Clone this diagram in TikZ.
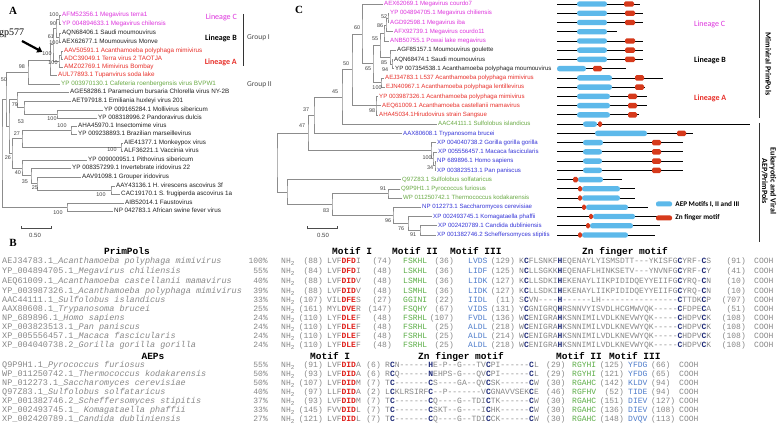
\documentclass[tikz,border=0pt]{standalone}
\usepackage{fontspec}
\setmonofont{Liberation Mono}[Ligatures=TeXOff]
\newfontfamily\arialfont{Liberation Sans}
\newfontfamily\calibfont{Carlito}
\newfontfamily\timesfont{Liberation Serif}
\usetikzlibrary{positioning,arrows.meta}

\definecolor{megaMag}{HTML}{DD33DD}
\definecolor{mimiRed}{HTML}{E8302A}
\definecolor{archGreen}{HTML}{6AAA45}
\definecolor{euBlue}{HTML}{3535D8}
\definecolor{leafBlack}{HTML}{222222}
\definecolor{treeGray}{HTML}{8C8C8C}
\definecolor{seqGray}{HTML}{878787}
\definecolor{motRed}{HTML}{E0201B}
\definecolor{motGreen}{HTML}{5DAE48}
\definecolor{motBlue}{HTML}{4F7DCB}
\definecolor{znBlue}{HTML}{1F2B78}
\definecolor{aepBlue}{HTML}{5DB9EA}
\definecolor{znRed}{HTML}{D63A1C}

\newcommand{\mI}[1]{\textcolor{motRed}{\bfseries #1}}
\newcommand{\zb}[1]{\textcolor{znBlue}{\bfseries #1}}
\newcommand{\znseq}[9]{#1\zb{#2}#3\zb{#4}#5\zb{#6}#7\zb{#8}#9}
\newcommand{\znMimi}{\znseq{K}{C}{FLSNKF}{H}{EQENAYLYISMSDTT---YKISFG}{C}{YRF-}{C}{S}}
\newcommand{\znMega}{\znseq{N}{C}{LLSGKK}{H}{EQENAFLHINKSETV---YNVNFG}{C}{YRF-}{C}{Y}}
\newcommand{\znMama}{\znseq{K}{C}{LLSDKI}{H}{EKENAYLIIKPIDIDQEYYEIIFG}{C}{YRQ-}{C}{N}}
\newcommand{\znSulf}{\znseq{S}{C}{VN----}{H}{------LH----------------}{C}{TTDK}{C}{P}}
\newcommand{\znTryp}{\znseq{Y}{C}{GNIGRQ}{H}{RSNNVYISVDLHCGMWVQK-----}{C}{FDPE}{C}{A}}
\newcommand{\znPrim}{\znseq{W}{C}{ENIGRA}{H}{KSNNIMILVDLKNEVWYQK-----}{C}{HDPV}{C}{K}}
% clade: name, x, first child, last child
\newcommand{\clade}[4]{%
  \path (#3) -- (#4) coordinate[pos=0.5] (#1m);
  \coordinate (#1) at (#2,0 |- #1m);
  \draw[treeline] (#3) -| (#1) |- (#4);}

\tikzset{
  treeline/.style={draw=treeGray, line width=0.55pt},
  leafa/.style={anchor=west, inner sep=1pt, text height=4.4pt, text depth=1pt, font=\arialfont\fontsize{6.3}{7}\selectfont},
  leafc/.style={leafa, font=\arialfont\fontsize{6.1}{7}\selectfont},
  boot/.style={inner sep=0pt, text=black!75, font=\arialfont\fontsize{5.4}{6}\selectfont},
  panel/.style={inner sep=0pt, font=\timesfont\bfseries\fontsize{11}{12}\selectfont},
  lin/.style={inner sep=0pt, font=\calibfont\fontsize{8}{9}\selectfont},
  linb/.style={inner sep=0pt, font=\calibfont\bfseries\fontsize{8}{9}\selectfont},
  grp/.style={inner sep=0pt, anchor=west, text=black!70, font=\calibfont\fontsize{7.5}{9}\selectfont},
  bracket/.style={draw=black!80, line width=1pt},
  domline/.style={draw=black, line width=0.8pt},
  keybar/.style={minimum width=16pt, minimum height=5pt, inner sep=0pt, rounded corners=2pt},
  legtxt/.style={inner sep=0pt, anchor=west, font=\calibfont\bfseries\fontsize{7.2}{8}\selectfont},
  rotlab/.style={rotate=-90, inner sep=0pt, align=center, font=\calibfont\bfseries\fontsize{8}{8.5}\selectfont},
  seq/.style={anchor=west, inner sep=0pt, text=seqGray, text height=5.4pt, text depth=1.6pt, font=\ttfamily\fontsize{8}{9}\selectfont},
  seqname/.style={seq, font=\ttfamily\fontsize{8.5}{9}\selectfont},
  seqhead/.style={anchor=west, inner sep=0pt, text=black, text height=6.5pt, text depth=1.8pt, font=\ttfamily\bfseries\fontsize{9.5}{10}\selectfont},
  scalebar/.style={draw=black!70, line width=0.6pt, {Bar[width=3pt]}-{Bar[width=3pt]}},
  bigarrow/.style={-{Triangle[length=5pt,width=6.5pt]}, line width=2.2pt},
}

\begin{document}
\begin{tikzpicture}[x=1pt, y=-1pt]
  \useasboundingbox (0,0) rectangle (779,438);
  \fill[white] (0,0) rectangle (779,438);

  %% Panel A
  \node[panel] (pA) at (13,11) {A};
  \foreach \i/\x/\y/\col/\lbl in {
    1/61/15/megaMag/AFM52356.1 Megavirus terra1,
    2/61/24/megaMag/YP 004894633.1 Megavirus chilensis,
    3/61/33/leafBlack/AQN68406.1 Saudi moumouvirus,
    4/61/42/leafBlack/AEX62677.1 Moumouvirus Monve,
    5/63/51/mimiRed/AAV50591.1 Acanthamoeba polyphaga mimivirus,
    6/63/59/mimiRed/ADC39049.1 Terra virus 2 TAOTJA,
    7/63/67/mimiRed/AMZ02769.1 Mimivirus Bombay,
    8/57/75/mimiRed/AUL77893.1 Tupanvirus soda lake,
    9/60/84/archGreen/YP 003970130.1 Cafeteria roenbergensis virus BVPW1,
    10/69/92/leafBlack/AGE58286.1 Paramecium bursaria Chlorella virus NY-2B,
    11/71/101/leafBlack/AET97918.1 Emiliania huxleyi virus 201,
    12/103/110/leafBlack/YP 009165284.1 Mollivirus sibericum,
    13/97/118/leafBlack/YP 008318996.2 Pandoravirus dulcis,
    14/77/126/leafBlack/AHA45970.1 Insectomime virus,
    15/77/134/leafBlack/YP 009238893.1 Brazilian marseillevirus,
    16/123/143/leafBlack/AIE41377.1 Monkeypox virus,
    17/123/151/leafBlack/ALF36221.1 Vaccinia virus,
    18/87/160/leafBlack/YP 009000951.1 Pithovirus sibericum,
    19/71/168/leafBlack/YP 008357299.1 Invertebrate iridovirus 22,
    20/81/177/leafBlack/AAV91098.1 Grouper iridovirus,
    21/115/186/leafBlack/AAY43136.1 H. virescens ascovirus 3f,
    22/120/194/leafBlack/CAC19170.1 S. frugiperda ascovirus 1a,
    23/124/203/leafBlack/AIB52014.1 Faustovirus,
    24/113/211/leafBlack/NP 042783.1 African swine fever virus}
    \node[leafa, text=\col] (lA\i) at (\x,\y) {\lbl};
  % Branches
  \clade{nA1}{59}{lA1.west}{lA2.west}
  \clade{nA2}{59}{lA3.west}{lA4.west}
  \clade{nA3}{56}{nA1}{nA2}
  \clade{nA4}{61}{lA5.west}{lA6.west}
  \clade{nA5}{59}{nA4}{lA7.west}
  \clade{nA6}{53}{nA3}{nA5}
  \clade{nA7}{50}{nA6}{lA8.west}
  \clade{nA8}{28}{nA7}{lA9.west}
  \clade{nA9}{57}{lA12.west}{lA13.west}
  \clade{nA10}{24}{lA11.west}{nA9}
  \clade{nA11}{17}{lA10.west}{nA10}
  \clade{nA12}{71}{lA14.west}{lA15.west}
  \clade{nA13}{121}{lA16.west}{lA17.west}
  \clade{nA14}{22}{nA12}{nA13}
  \clade{nA15}{111}{lA21.west}{lA22.west}
  \clade{nA16}{37}{lA20.west}{nA15}
  \clade{nA17}{31}{lA19.west}{nA16}
  \clade{nA18}{22}{lA18.west}{nA17}
  \clade{nA19}{12}{nA14}{nA18}
  \clade{nA20}{9}{nA11}{nA19}
  \clade{nA21}{6}{nA8}{nA20}
  \clade{nA22}{67}{lA23.west}{lA24.west}
  \clade{nA23}{2}{nA21}{nA22}
  % Bootstrap values
  \foreach \i/\x/\y/\lbl in {1/54/15/100, 2/53/24/90, 3/51/37/61, 4/54/43/100,
      5/47/54/100, 6/53/63/100, 7/22/67/98, 8/4/80/50, 9/15/105/79, 10/21/122/53,
      11/52/119/100, 12/62/126/100, 13/17/134/27, 14/112/150/100, 15/8/158/26,
      16/18/173/40, 17/25/182/35, 18/35/188/25, 19/101/195/100, 20/58/213/100}
    \node[boot] (bA\i) at (\x,\y) {\lbl};
  % gp577 pointer
  \node[inner sep=0pt, anchor=west, font=\timesfont\fontsize{10}{11}\selectfont] (gp) at (-1,33) {gp577};
  \coordinate (gpTail) at (22,41);
  \draw[bigarrow] (gpTail) -- (bA5.north west);
  % Lineages and groups
  \node[lin, text=megaMag, anchor=east] (linAC) at (237,17) {Lineage C};
  \node[linb, anchor=east] (linAB) at (237,38) {Lineage B};
  \node[linb, text=mimiRed, anchor=east] (linAA) at (237,62) {Lineage A};
  \coordinate (grpTop) at (243,14);
  \coordinate (grpBot) at (243,66);
  \draw[bracket] (grpTop) -- (grpBot);
  \node[grp] (grpI) at (247,38) {Group I};
  \node[grp] (grpII) at (247,85) {Group II};
  % Scale
  \coordinate (sbA1) at (21,228);
  \coordinate (sbA2) at (52,228);
  \draw[scalebar] (sbA1) -- (sbA2);
  \node[boot, font=\arialfont\fontsize{6}{7}\selectfont] (sbAl) at (35,235) {0.50};

  %% Panel C
  \node[panel] (pC) at (299,10) {C};
  \foreach \i/\x/\col/\lbl in {
    1/383/megaMag/AEX62069.1 Megavirus courdo7,
    2/389/megaMag/YP 004894705.1 Megavirus chiliensis,
    3/389/megaMag/AGD92598.1 Megavirus iba,
    4/393/megaMag/AFX92739.1 Megavirus courdo11,
    5/389/megaMag/ANB50755.1 Powai lake megavirus,
    6/396/leafBlack/AGF85157.1 Moumouvirus goulette,
    7/393/leafBlack/AQN68474.1 Saudi moumouvirus,
    8/394/leafBlack/YP 007354538.1 Acanthamoeba polyphaga moumouvirus,
    9/384/mimiRed/AEJ34783.1 L537 Acanthamoeba polyphaga mimivirus,
    10/385/mimiRed/EJN40967.1 Acanthamoeba polyphaga lentillevirus,
    11/378/mimiRed/YP 003987326.1 Acanthamoeba polyphaga mimivirus,
    12/381/mimiRed/AEQ61009.1 Acanthamoeba castellanii mamavirus,
    13/378/mimiRed/AHA45034.1Hirudovirus strain Sangsue,
    14/437/archGreen/AAC44111.1 Sulfolobus islandicus,
    15/402/euBlue/AAX80608.1 Trypanosoma brucei,
    16/436/euBlue/XP 004040738.2 Gorilla gorilla gorilla,
    17/437/euBlue/XP 005556457.1 Macaca fascicularis,
    18/436/euBlue/NP 689896.1 Homo sapiens,
    19/436/euBlue/XP 003823513.1 Pan paniscus,
    20/401/archGreen/Q97Z83.1 Sulfolobus solfataricus,
    21/400/archGreen/Q9P9H1.1 Pyrococcus furiosus,
    22/402/archGreen/WP 011250742.1 Thermococcus kodakarensis,
    23/421/euBlue/NP 012273.1 Saccharomyces cerevisiae,
    24/432/euBlue/XP 002493745.1 Komagataella phaffii,
    25/437/euBlue/XP 002420789.1 Candida dubliniensis,
    26/436/euBlue/XP 001382746.2 Scheffersomyces stipitis}{
    \pgfmathsetmacro\yy{4+9.24*(\i-1)}
    \node[leafc, text=\col] (lC\i) at (\x,\yy) {\lbl};
  }
  % Branches
  \clade{nC1}{388}{lC2.west}{lC3.west}
  \clade{nC2}{386}{nC1}{lC4.west}
  \clade{nC3}{384}{nC2}{lC5.west}
  \clade{nC4}{392}{lC7.west}{lC8.west}
  \clade{nC5}{390}{lC6.west}{nC4}
  \clade{nC6}{380}{nC3}{nC5}
  \clade{nC7}{381}{lC9.west}{lC10.west}
  \clade{nC8}{373}{nC6}{nC7}
  \clade{nC9}{362}{lC1.west}{nC8}
  \clade{nC10}{376}{lC11.west}{lC13.west}
  \draw[treeline] (nC10 |- lC12.west) -- (lC12.west);
  \clade{nC11}{352}{nC9}{nC10}
  \clade{nC12}{342}{nC11}{lC14.west}
  \clade{nC13}{314}{nC12}{lC15.west}
  \clade{nC14}{435}{lC18.west}{lC19.west}
  \clade{nC15}{433}{lC17.west}{nC14}
  \clade{nC16}{431}{lC16.west}{nC15}
  \clade{nC17}{308}{nC13}{nC16}
  \clade{nC18}{388}{lC21.west}{lC22.west}
  \clade{nC19}{420}{lC25.west}{lC26.west}
  \clade{nC20}{408}{lC24.west}{nC19}
  \clade{nC21}{393}{lC23.west}{nC20}
  \clade{nC22}{332}{nC18}{nC21}
  \clade{nC23}{287}{lC20.west}{nC22}
  \clade{nC24}{277}{nC17}{nC23}
  % Bootstrap values
  \foreach \i/\x/\y/\lbl in {1/384/17/52, 2/380/26/86, 3/375/39/55, 4/357/28/60,
      5/368/69/65, 6/384/63/85, 7/385/70/94, 8/377/88/100, 9/372/111/98,
      10/346/64/50, 11/335/92/45, 12/306/110/37, 13/302/126/47, 14/427/158/100,
      15/430/168/34, 16/383/189/91, 17/388/221/96, 18/401/229/76, 19/413/235/91,
      20/326/211/83}
    \node[boot] (bC\i) at (\x,\y) {\lbl};
  % Domain maps
  \foreach \i/\e/\ba/\bb in {1/640/577/607, 2/643/577/607, 3/643/577/607,
      4/617/577/607, 5/643/577/607, 6/643/577/607, 7/643/577/607, 8/626/557/586,
      9/663/577/612, 10/645/577/612, 11/647/577/610, 12/647/577/610,
      13/639/577/610, 14/750/583/597, 15/693/595/647, 16/683/583/603,
      17/683/583/602, 18/683/583/602, 19/683/583/602, 20/622/578/603,
      21/635/582/620, 22/635/582/620, 23/648/586/628, 24/662/593/635,
      25/660/590/633, 26/655/582/628}{
    \pgfmathsetmacro\yy{4+9.24*(\i-1)}
    \draw[domline] (557,\yy) -- (\e,\yy);
    \fill[aepBlue, rounded corners=2.5pt] (\ba,\yy-2.7) rectangle (\bb,\yy+2.7);
  }
  \foreach \i/\ra/\rb in {1/624/634, 2/625/635, 3/625/635, 5/625/635,
      6/625/635, 7/625/635, 8/593/602, 9/635/644, 10/635/644, 11/628/637,
      12/628/637, 13/628/637, 14/598/602, 15/677/686, 16/652/661, 17/652/661,
      18/652/661, 19/652/661, 20/573/578, 21/578/582, 22/578/582, 23/582/586,
      24/589/593, 25/586/590, 26/578/582}{
    \pgfmathsetmacro\yy{4+9.24*(\i-1)}
    \fill[znRed, rounded corners=1.5pt] (\ra,\yy-2.7) rectangle (\rb,\yy+2.7);
  }
  % Legend
  \node[keybar, fill=aepBlue] (keyAEP) at (664,204) {};
  \node[legtxt, right=3pt of keyAEP] (txtAEP) {AEP Motifs I, II and III};
  \node[keybar, fill=znRed] (keyZn) at (664,218) {};
  \node[legtxt, right=3pt of keyZn] (txtZn) {Zn finger motif};
  % Lineages and groups
  \node[lin, text=megaMag, anchor=west] (linCC) at (694,24) {Lineage C};
  \node[linb, anchor=west] (linCB) at (694,60) {Lineage B};
  \node[linb, text=mimiRed, anchor=west] (linCA) at (694,98) {Lineage A};
  \coordinate (brMimiT) at (759,0);
  \coordinate (brMimiB) at (759,118);
  \draw[bracket] (brMimiT) -- (brMimiB);
  \node[rotlab] (mimiPP) at (768.5,64) {Mimiviral PrimPols};
  \coordinate (brEuT) at (759,123);
  \coordinate (brEuB) at (759,242);
  \draw[bracket] (brEuT) -- (brEuB);
  \node[rotlab] (euPP) at (769,181) {Eukaryotic and Viral\\AEP/PrimPols};
  % Scale
  \coordinate (sbC1) at (307,228);
  \coordinate (sbC2) at (338,228);
  \draw[scalebar] (sbC1) -- (sbC2);
  \node[boot, font=\arialfont\fontsize{6}{7}\selectfont] (sbCl) at (323,235) {0.50};

  %% Panel B
  \node[panel] (pB) at (13,243) {B};
  \node[seqhead, anchor=center] (hPrim) at (127,252) {PrimPols};
  \node[seqhead] (hMotI) at (332,252) {Motif I};
  \node[seqhead] (hMotII) at (392,252) {Motif II};
  \node[seqhead] (hMotIII) at (450,252) {Motif III};
  \node[seqhead] (hZn) at (582,252) {Zn finger motif};
  \foreach \y/\nm/\pc/\ca/\ma/\cb/\mb/\cc/\mc/\cd/\zn/\ce [count=\i] in {
    262/{AEJ34783.1\_\textit{Acanthamoeba polyphaga mimivirus}}/100\%/(88)/{LVF\mI{DFD}I}/(74)/FSKHL/(36)/LVDS/(129)/\znMimi/(91),
    272/{YP\_004894705.1\_\textit{Megavirus chiliensis}}/55\%/(84)/{LVF\mI{DFD}I}/(48)/LSKHL/(36)/LIDF/(125)/\znMega/(41),
    282/{AEQ61009.1\_\textit{Acanthamoeba castellanii mamavirus}}/40\%/(88)/{LVF\mI{DID}V}/(48)/LSMHL/(36)/LIDK/(127)/\znMama/(10),
    292/{YP\_003987326.1\_\textit{Acanthamoeba polyphaga mimivirus}}/39\%/(88)/{LVF\mI{DID}V}/(48)/LSMHL/(36)/LIDK/(127)/\znMama/(10),
    301/{AAC44111.1\_\textit{Sulfolobus islandicus}}/33\%/(107)/{VIL\mI{DFE}S}/(27)/GGINI/(22)/IIDL/(11)/\znSulf/(707),
    310/{AAX80608.1\_\textit{Trypanosoma brucei}}/25\%/(161)/{MYL\mI{DVE}R}/(147)/FSQHY/(67)/VIDS/(131)/\znTryp/(51),
    319/{NP\_689896.1\_\textit{Homo sapiens}}/24\%/(110)/{LYF\mI{DLE}F}/(48)/FSRHL/(107)/FVDL/(136)/\znPrim/(108),
    328/{XP\_003823513.1\_\textit{Pan paniscus}}/24\%/(110)/{LYF\mI{DLE}F}/(48)/FSRHL/(25)/ALDL/(218)/\znPrim/(108),
    337/{XP\_005556457.1\_\textit{Macaca fascicularis}}/24\%/(110)/{LYF\mI{DLE}F}/(48)/FSRHL/(25)/ALDL/(214)/\znPrim/(108),
    346/{XP\_004040738.2\_\textit{Gorilla gorilla gorilla}}/24\%/(110)/{LYF\mI{DLE}F}/(48)/FSRHL/(25)/ALDL/(218)/\znPrim/(108)}{
    \node[seqname] (pName\i) at (2,\y) {\nm};
    \node[seq, anchor=east] (pPct\i) at (268,\y) {\pc};
    \node[seq] (pNH\i) at (281,\y) {NH\textsubscript{2}};
    \node[seq, anchor=east] (pCa\i) at (323,\y) {\ca};
    \node[seq] (pMa\i) at (327,\y) {\ma};
    \node[seq, anchor=east] (pCb\i) at (392,\y) {\cb};
    \node[seq, text=motGreen] (pMb\i) at (403,\y) {\mb};
    \node[seq, anchor=east] (pCc\i) at (454,\y) {\cc};
    \node[seq, text=motBlue] (pMc\i) at (468,\y) {\mc};
    \node[seq, anchor=east] (pCd\i) at (515,\y) {\cd};
    \node[seq] (pZn\i) at (519,\y) {\zn};
    \node[seq, anchor=east] (pCe\i) at (746,\y) {\ce};
    \node[seq] (pEnd\i) at (754,\y) {COOH};
  }
  \node[seqhead, anchor=center] (hAEP) at (153,357) {AEPs};
  \node[seqhead] (hAMotI) at (310,357) {Motif I};
  \node[seqhead] (hAZn) at (418,357) {Zn finger motif};
  \node[seqhead] (hAMotII) at (556,357) {Motif II};
  \node[seqhead] (hAMotIII) at (609,357) {Motif III};
  \foreach \y/\nm/\pc/\ca/\ma/\cb/\zn/\cc/\mb/\cd/\mc/\ce [count=\i] in {
    366/{Q9P9H1.1\_\textit{Pyrococcus furiosus}}/55\%/(91)/{LVF\mI{DID}A}/(6)/{\znseq{R}{C}{N------}{H}{E-P--G---TV}{C}{PI------}{C}{L}}/(29)/RGYHI/(125)/YFDG/(66),
    375/{WP\_011250742.1\_\textit{Thermococcus kodakarensis}}/50\%/(93)/{LVF\mI{DID}A}/(6)/{\znseq{R}{C}{Q------}{N}{EHPS-G---QV}{C}{PI------}{C}{L}}/(29)/RGYHI/(121)/YFDG/(65),
    384/{NP\_012273.1\_\textit{Saccharomyces cerevisiae}}/50\%/(107)/{LVF\mI{DID}M}/(7)/{\znseq{T}{C}{-------}{C}{S----GA--QV}{C}{SK------}{C}{W}}/(30)/RGAHC/(142)/KLDV/(94),
    393/{Q97Z83.1\_\textit{Sulfolobus solfataricus}}/40\%/(97)/{LLF\mI{DID}A}/(2)/{\znseq{L}{C}{KLRSIRF}{C}{--P-------V}{C}{GNAVVSEK}{C}{E}}/(46)/RGFHV/(52)/TIDE/(94),
    402/{XP\_001382746.2\_\textit{Scheffersomyces stipitis}}/37\%/(93)/{LVF\mI{DID}M}/(7)/{\znseq{T}{C}{-------}{C}{Q----G--TDI}{C}{TK------}{C}{W}}/(30)/RGAHC/(151)/DIEV/(127),
    411/{XP\_002493745.1\_ \textit{Komagataella phaffii}}/33\%/(145)/{FVV\mI{DID}L}/(7)/{\znseq{T}{C}{-------}{C}{SKT--G----I}{C}{HK------}{C}{W}}/(30)/RGAHC/(136)/DIEV/(108),
    420/{XP\_002420789.1\_\textit{Candida dubliniensis}}/27\%/(121)/{LVF\mI{DID}L}/(7)/{\znseq{T}{C}{-------}{C}{Q----G--TDI}{C}{CK------}{C}{W}}/(30)/RGAHC/(148)/DVQV/(113)}{
    \node[seqname] (aName\i) at (2,\y) {\nm};
    \node[seq, anchor=east] (aPct\i) at (268,\y) {\pc};
    \node[seq] (aNH\i) at (281,\y) {NH\textsubscript{2}};
    \node[seq, anchor=east] (aCa\i) at (323,\y) {\ca};
    \node[seq] (aMa\i) at (327,\y) {\ma};
    \node[seq, anchor=east] (aCb\i) at (381,\y) {\cb};
    \node[seq] (aZn\i) at (385,\y) {\zn};
    \node[seq] (aCc\i) at (546,\y) {\cc};
    \node[seq, text=motGreen] (aMb\i) at (572,\y) {\mb};
    \node[seq, anchor=east] (aCd\i) at (624,\y) {\cd};
    \node[seq, text=motBlue] (aMc\i) at (628,\y) {\mc};
    \node[seq] (aCe\i) at (651,\y) {\ce};
    \node[seq] (aEnd\i) at (679,\y) {COOH};
  }
\end{tikzpicture}
\end{document}
